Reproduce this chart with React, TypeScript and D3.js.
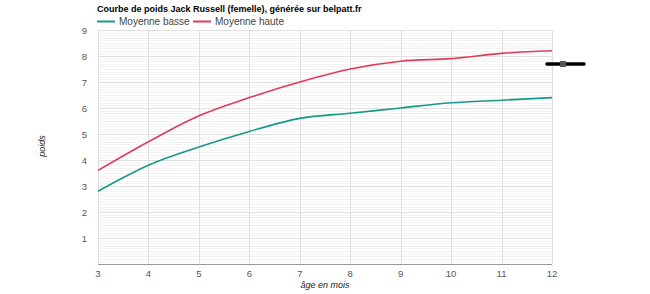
import React from "react";
import * as d3 from "d3";

const ages = [3, 4, 5, 6, 7, 8, 9, 10, 11, 12];
const moyenneBasse = [2.8, 3.8, 4.5, 5.1, 5.6, 5.8, 6.0, 6.2, 6.3, 6.4];
const moyenneHaute = [3.6, 4.7, 5.7, 6.4, 7.0, 7.5, 7.8, 7.9, 8.1, 8.2];
const yTicks = [1, 2, 3, 4, 5, 6, 7, 8, 9];
const seriesNames = ["Moyenne basse", "Moyenne haute"];
const seriesColors = ["#17998a", "#e23b5a"];
const title = "Courbe de poids Jack Russell (femelle), générée sur belpatt.fr";

export default function App() {
  const W = 650, H = 294;
  const left = 98, right = 552, top = 30, bottom = 264;
  const x = d3.scaleLinear().domain([3, 12]).range([left, right]);
  const y = d3.scaleLinear().domain([0, 9]).range([bottom, top]);
  const minor: number[] = [];
  for (let i = 0; i < 9; i++) for (let j = 1; j < 10; j++) minor.push(i + j / 10);
  const line = d3
    .line<number>()
    .x((_, i) => x(ages[i]))
    .y((d) => y(d))
    .curve(d3.curveMonotoneX);
  const font = "Arial, 'Liberation Sans', sans-serif";
  const legendX = [97, 193];
  return (
    <svg width={W} height={H} style={{ position: "absolute", left: 0, top: 0 }} fontFamily={font}>
      <rect width={W} height={H} fill="#fff" />
      <text x={97} y={12} fontSize={9} fontWeight="bold" fill="#000">{title}</text>
      {seriesNames.map((n, i) => {
        const lx = legendX[i];
        return (
          <g key={n}>
            <line x1={lx} x2={lx + 18} y1={21.5} y2={21.5} stroke={seriesColors[i]} strokeWidth={2} />
            <text x={lx + 22} y={25} fontSize={10} fill="#444">{n}</text>
          </g>
        );
      })}
      {minor.map((v) => (
        <line key={"m" + v} x1={left} x2={right} y1={Math.round(y(v)) + 0.5} y2={Math.round(y(v)) + 0.5} stroke="#f3f3f3" strokeWidth={1} />
      ))}
      {yTicks.map((v) => (
        <line key={"h" + v} x1={left} x2={right} y1={Math.round(y(v)) + 0.5} y2={Math.round(y(v)) + 0.5} stroke="#e0e0e0" strokeWidth={1} />
      ))}
      {ages.map((a) => (
        <line key={"v" + a} x1={Math.round(x(a)) + 0.5} x2={Math.round(x(a)) + 0.5} y1={top} y2={bottom} stroke="#e0e0e0" strokeWidth={1} />
      ))}
      <line x1={left} x2={right} y1={bottom + 0.5} y2={bottom + 0.5} stroke="#999" strokeWidth={1} />
      {yTicks.map((v) => (
        <text key={"yt" + v} x={87} y={y(v) + 3.5} fontSize={9.5} fill="#555" textAnchor="end">{v}</text>
      ))}
      {ages.map((a) => (
        <text key={"xt" + a} x={x(a)} y={277} fontSize={9.5} fill="#555" textAnchor="middle">{a}</text>
      ))}
      <text x={325} y={288} fontSize={9} fontStyle="italic" fill="#222" textAnchor="middle">âge en mois</text>
      <text transform={`translate(45,146) rotate(-90)`} fontSize={9} fontStyle="italic" fill="#222" textAnchor="middle">poids</text>
      {[moyenneBasse, moyenneHaute].map((s, i) => (
        <path key={"s" + i} d={line(s) || ""} fill="none" stroke={seriesColors[i]} strokeWidth={1.6} />
      ))}
      <line x1={547} x2={584} y1={64} y2={64} stroke="#000" strokeWidth={3.5} strokeLinecap="round" />
      <rect x={560} y={61} width={6} height={6} fill="#555" />
    </svg>
  );
}
